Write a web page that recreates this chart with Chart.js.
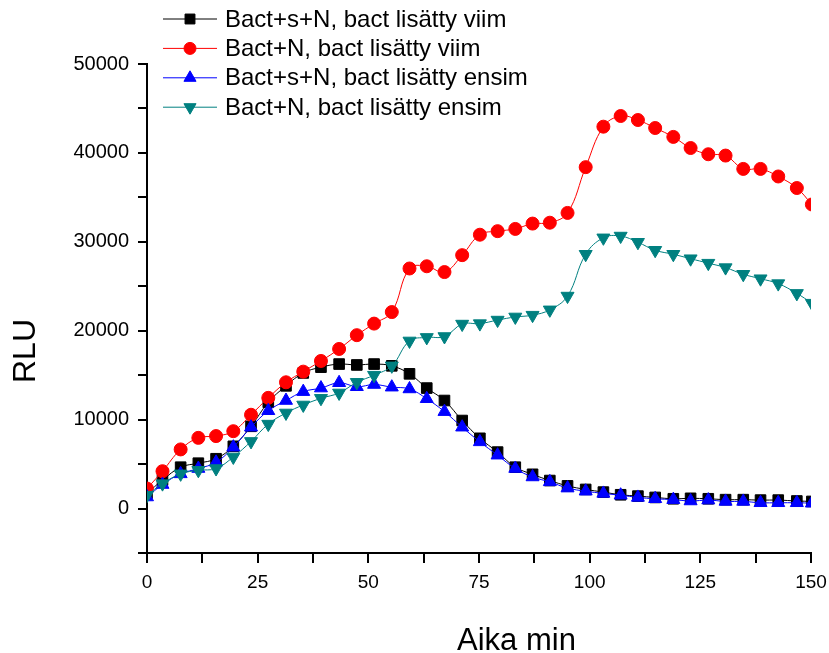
<!DOCTYPE html>
<html>
<head>
<meta charset="utf-8">
<title>RLU</title>
<script src="https://cdn.jsdelivr.net/npm/chart.js@4"></script>
<style>
  body { margin: 0; background: #fff; }
  #wrap { width: 829px; height: 653px; }
</style>
</head>
<body>
<div id="wrap"><canvas id="rluChart" width="829" height="653"></canvas></div>
<script>
// measurement times (min)
const times = [0, 3.5, 7.6, 11.6, 15.6, 19.5, 23.5, 27.4, 31.4, 35.3, 39.3, 43.4, 47.4, 51.3, 55.3, 59.3, 63.2, 67.2, 71.2,
    75.2, 79.2, 83.2, 87.1, 91.0, 95.0, 99.1, 103.1, 107.0, 110.9, 114.8, 118.9, 122.8, 126.8, 130.7, 134.7, 138.6, 142.6, 146.8, 150.2];

// RLU values
const bactSNLast = [1700, 3200, 4650, 5100, 5600, 7000, 9250, 11950, 13800, 15250, 15900, 16250, 16150, 16250, 16050, 15150, 13550, 12150, 9900,
    7900, 6350, 4650, 3850, 3150, 2550, 2150, 1850, 1550, 1400, 1250, 1100, 1150, 1100, 1000, 1000, 950, 950, 850, 800];
const bactNLast = [2250, 4200, 6650, 7950, 8150, 8700, 10550, 12450, 14200, 15400, 16600, 17950, 19500, 20800, 22100, 27000, 27250, 26600, 28500,
    30800, 31200, 31450, 32050, 32150, 33250, 38400, 42950, 44150, 43700, 42800, 41800, 40550, 39850, 39700, 38200, 38200, 37350, 36050, 34200];
const bactSNFirst = [1300, 2700, 3900, 4500, 5200, 6900, 9150, 11000, 12150, 13150, 13550, 14150, 13700, 13950, 13650, 13450, 12350, 10900, 9150,
    7500, 6000, 4500, 3550, 3000, 2300, 1950, 1700, 1500, 1250, 1100, 1000, 850, 950, 800, 800, 650, 650, 650, 600];
const bactNFirst = [1500, 2800, 3900, 4300, 4500, 5800, 7550, 9500, 10750, 11650, 12400, 13000, 14200, 15000, 16050, 18850, 19250, 19350, 20750,
    20800, 21200, 21550, 21750, 22350, 23900, 28600, 30450, 30650, 29950, 29050, 28600, 28100, 27600, 27100, 26350, 25850, 25300, 24200, 23100];

const seriesLabels = ['Bact+s+N, bact lisätty viim', 'Bact+N, bact lisätty viim', 'Bact+s+N, bact lisätty ensim', 'Bact+N, bact lisätty ensim'];
const xTitle = 'Aika min';
const yTitle = 'RLU';

const FONT = 'Arial, "Liberation Sans", sans-serif';

function points(values) {
    return times.map((t, i) => ({ x: t, y: values[i] }));
}

function series(label, values, color, style, radius, rotation, order) {
    return {
        label: label,
        data: points(values),
        borderColor: color,
        borderWidth: 1,
        backgroundColor: color,
        pointBackgroundColor: color,
        pointBorderColor: color,
        pointBorderWidth: 1,
        pointStyle: style,
        pointRadius: radius,
        pointRotation: rotation,
        tension: 0.4,
        order: order
    };
}

// Origin-style legend (line through marker) plus axis titles
const decorations = {
    id: 'decorations',
    afterDraw(chart) {
        const ctx = chart.ctx;
        ctx.save();
        chart.data.datasets.forEach((ds, i) => {
            const y = 19 + i * 29.4;
            ctx.strokeStyle = ds.borderColor;
            ctx.lineWidth = 1;
            ctx.beginPath();
            ctx.moveTo(163, y);
            ctx.lineTo(217, y);
            ctx.stroke();
            ctx.fillStyle = ds.pointBackgroundColor;
            ctx.strokeStyle = ds.pointBorderColor;
            Chart.helpers.drawPoint(ctx, {
                pointStyle: ds.pointStyle,
                rotation: ds.pointRotation,
                radius: ds.pointRadius - 0.5,
                borderWidth: 1
            }, 190, y);
            ctx.fillStyle = '#000';
            ctx.font = '24px ' + FONT;
            ctx.textAlign = 'left';
            ctx.textBaseline = 'middle';
            ctx.fillText(ds.label, 225, y + 1);
        });

        ctx.fillStyle = '#000';
        ctx.font = '31px ' + FONT;
        ctx.textAlign = 'left';
        ctx.textBaseline = 'alphabetic';
        ctx.fillText(xTitle, 457, 650);

        ctx.translate(26, 351);
        ctx.rotate(-Math.PI / 2);
        ctx.font = '32px ' + FONT;
        ctx.textAlign = 'center';
        ctx.textBaseline = 'middle';
        ctx.fillText(yTitle, 0, 0);
        ctx.restore();
    }
};

const ctx = document.getElementById('rluChart').getContext('2d');
new Chart(ctx, {
    type: 'line',
    data: {
        datasets: [
            series(seriesLabels[0], bactSNLast, '#000000', 'rect', 7.5, 0, 3),
            series(seriesLabels[1], bactNLast, '#ff0000', 'circle', 6.5, 0, 2),
            series(seriesLabels[2], bactSNFirst, '#0000ff', 'triangle', 7.5, 0, 1),
            series(seriesLabels[3], bactNFirst, '#008080', 'triangle', 7.5, 180, 0)
        ]
    },
    options: {
        responsive: false,
        animation: false,
        layout: { padding: { top: 64, right: 18, left: 0, bottom: 0 } },
        plugins: {
            legend: { display: false },
            tooltip: { enabled: false }
        },
        scales: {
            x: {
                type: 'linear',
                min: 0,
                max: 150,
                afterFit: scale => {
                    scale.height = 100;
                    scale.paddingLeft = 0;
                    scale.paddingRight = 0;
                },
                border: { display: true, color: '#000', width: 2 },
                grid: { drawOnChartArea: false, drawTicks: true, tickLength: 10, color: '#000', lineWidth: 2 },
                ticks: {
                    stepSize: 12.5,
                    autoSkip: false,
                    maxRotation: 0,
                    padding: 8,
                    color: '#000',
                    font: { family: FONT, size: 19 },
                    callback: v => (v % 25 === 0 ? v : '')
                }
            },
            y: {
                min: -5000,
                max: 50000,
                afterFit: scale => { scale.width = 147; },
                border: { display: true, color: '#000', width: 2 },
                grid: { drawOnChartArea: false, drawTicks: true, tickLength: 9, color: '#000', lineWidth: 2 },
                ticks: {
                    stepSize: 5000,
                    autoSkip: false,
                    padding: 9,
                    color: '#000',
                    font: { family: FONT, size: 20 },
                    callback: v => (v >= 0 && v % 10000 === 0 ? v : '')
                }
            }
        }
    },
    plugins: [decorations]
});
</script>
</body>
</html>
